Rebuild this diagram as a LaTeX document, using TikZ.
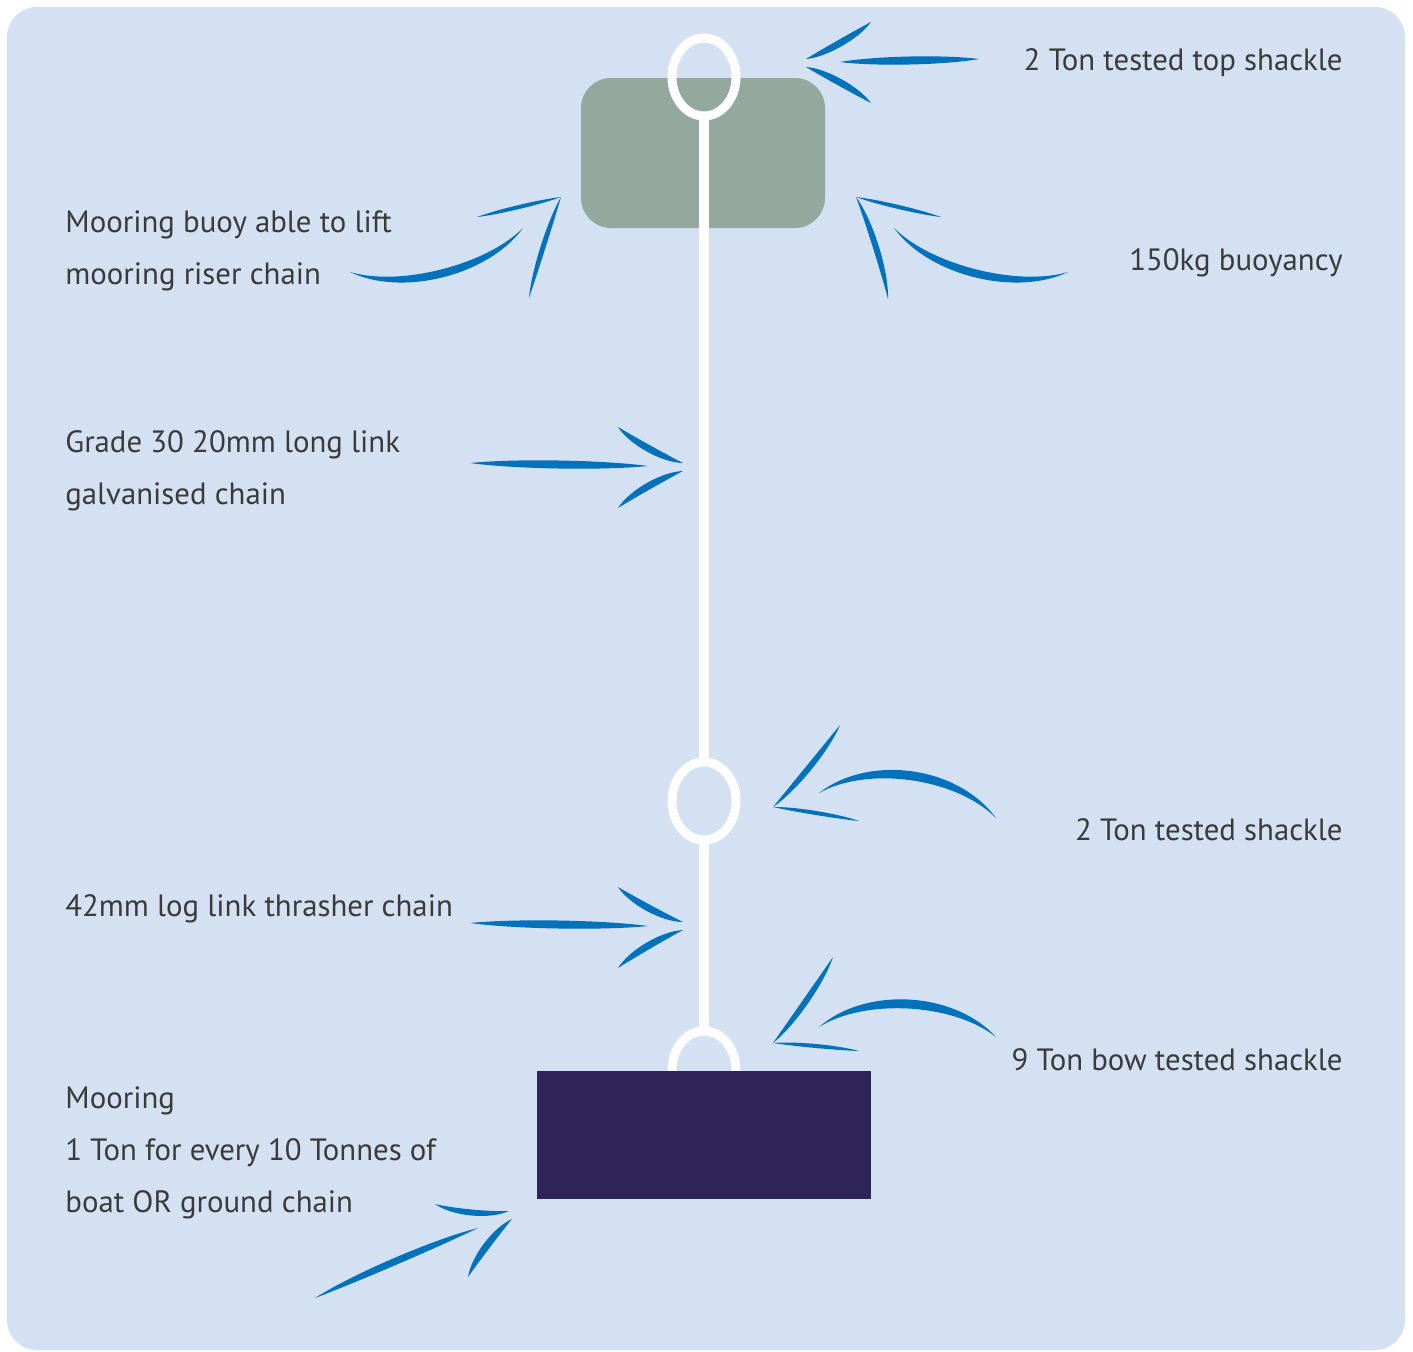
\documentclass[tikz,border=0pt]{standalone}
\usepackage{fontspec}
\setmainfont{PT Sans}
\usetikzlibrary{calc}
\definecolor{seabg}{HTML}{D3E1F3}
\definecolor{buoygreen}{HTML}{93A99E}
\definecolor{sinker}{HTML}{2E2458}
\definecolor{penblue}{HTML}{0072BC}
\definecolor{txtgray}{HTML}{3A3A3A}
\tikzset{
  brushfill/.style={fill=penblue},
  lbl/.style={text=txtgray, font=\fontsize{15.4}{18}\selectfont, inner sep=0pt},
  link/.style={draw=white, line width=4.5pt},
  chain/.style={draw=white, line width=5pt}
}
% tapered pen stroke: from, to, bow (px), thickness (px)
\newcommand\brush[4]{%
  \fill[brushfill] (#1)
    .. controls ($(#1)!0.25!(#2)!{(#3+#4/2)*0.6667pt}!90:(#2)$)
            and ($(#1)!0.75!(#2)!{(#3+#4/2)*0.6667pt}!90:(#2)$) .. (#2)
    .. controls ($(#1)!0.75!(#2)!{(#3-#4/2)*0.6667pt}!90:(#2)$)
            and ($(#1)!0.25!(#2)!{(#3-#4/2)*0.6667pt}!90:(#2)$) .. (#1);}
\begin{document}
\begin{tikzpicture}[x=0.5pt,y=-0.5pt]
\useasboundingbox (0,0) rectangle (1413,1351);
\fill[white] (0,0) rectangle (1413,1351);
\fill[seabg, rounded corners=15pt] (7,7) rectangle (1405,1350);
% buoy, riser and sinker
\fill[buoygreen, rounded corners=15pt] (581,78) rectangle (825,228);
\draw[chain] (704,116) -- (704,762);
\draw[chain] (704,840) -- (704,1032);
\draw[link] (704,77) ellipse [x radius=16pt, y radius=19.5pt];
\draw[link] (704,801) ellipse [x radius=16pt, y radius=19.5pt];
\draw[link] (704,1070) ellipse [x radius=16pt, y radius=19.5pt];
\fill[sinker] (537,1071) rectangle (871,1199);
% arrows
\brush{840,62}{979,59}{0}{8}
\brush{806,59}{871,22}{-3}{7}
\brush{806,67}{871,103}{3}{7}
\brush{350,272}{523,228}{-24}{8}
\brush{477,217}{561,197}{0}{4}
\brush{561,197}{529,298}{-2}{5}
\brush{894,228}{1068,272}{-24}{8}
\brush{856,197}{941,217}{0}{4}
\brush{856,197}{888,299}{4}{6}
\brush{470,463}{648,466}{0}{8}
\brush{618,427}{683,463}{-4}{7}
\brush{683,471}{618,508}{-4}{7}
\brush{996,818}{819,793}{-30}{9}
\brush{773,807}{840,725}{-3}{6}
\brush{773,807}{859,821}{1}{4}
\brush{470,923}{648,926}{0}{8}
\brush{618,887}{683,922}{-4}{7}
\brush{683,930}{618,968}{-4}{7}
\brush{996,1037}{819,1027}{-28}{9}
\brush{773,1043}{833,957}{-3}{6}
\brush{773,1043}{859,1051}{1}{4}
\brush{315,1298}{478,1228}{2}{7}
\brush{435,1204}{509,1211}{-5}{6}
\brush{512,1219}{468,1277}{-4}{7}
% labels
\node[lbl, anchor=base east] (topshackle) at (1343,70) {2 Ton tested top shackle};
\node[lbl, anchor=base west] (buoyA) at (65,232) {Mooring buoy able to lift};
\node[lbl, anchor=base west] (buoyB) at (65,284) {mooring riser chain};
\node[lbl, anchor=base east] (buoyancy) at (1343,270) {150kg buoyancy};
\node[lbl, anchor=base west] (riserA) at (65,452) {Grade 30 20mm long link};
\node[lbl, anchor=base west] (riserB) at (65,504) {galvanised chain};
\node[lbl, anchor=base east] (midshackle) at (1343,840) {2 Ton tested shackle};
\node[lbl, anchor=base west] (thrasher) at (65,916) {42mm log link thrasher chain};
\node[lbl, anchor=base east] (bowshackle) at (1343,1070) {9 Ton bow tested shackle};
\node[lbl, anchor=base west] (mooringA) at (65,1108) {Mooring};
\node[lbl, anchor=base west] (mooringB) at (65,1160) {1 Ton for every 10 Tonnes of};
\node[lbl, anchor=base west] (mooringC) at (65,1212) {boat OR ground chain};
\end{tikzpicture}
\end{document}
